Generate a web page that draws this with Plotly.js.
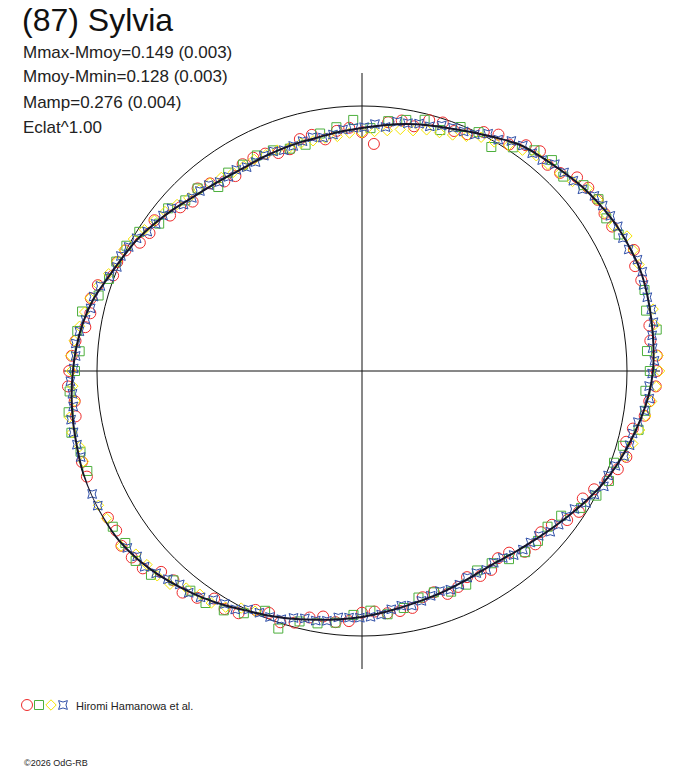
<!DOCTYPE html>
<html>
<head>
<meta charset="utf-8">
<script src="https://cdn.plot.ly/plotly-3.0.1.min.js"></script>
<style>
html,body{margin:0;padding:0;background:#fff;}
#chart{width:688px;height:768px;}
</style>
</head>
<body>
<div id="chart"></div>
<script>
// ---- Data (phase angle in degrees, relative flux radius; 1.0 = mean circle) ----
var objectName = "(87) Sylvia";
var statLines = ["Mmax-Mmoy=0.149 (0.003)", "Mmoy-Mmin=0.128 (0.003)", "Mamp=0.276 (0.004)", "Eclat^1.00"];
var observerName = "Hiromi Hamanowa et al.";
var copyrightText = "\u00a92026 OdG-RB";
var meanRadius = 1.0;
var axisExtent = 1.1245;

var fitTheta = [0,5,10,15,20,25,30,35,40,45,50,55,60,65,70,75,80,85,90,95,100,105,110,115,120,125,130,135,140,145,150,155,160,165,170,175,180,185,190,195,200,205,210,215,220,225,230,235,240,245,250,255,260,265,270,275,280,285,290,295,300,305,310,315,320,325,330,335,340,345,350,355,360];
var fitR = [1.098,1.104,1.109,1.114,1.117,1.112,1.106,1.095,1.083,1.067,1.054,1.041,1.016,0.993,0.974,0.960,0.946,0.931,0.917,0.907,0.898,0.894,0.891,0.889,0.887,0.893,0.903,0.918,0.940,0.962,0.984,1.001,1.022,1.049,1.068,1.081,1.091,1.100,1.107,1.113,1.121,1.125,1.123,1.118,1.105,1.087,1.066,1.045,1.023,1.001,0.985,0.969,0.953,0.940,0.928,0.915,0.903,0.894,0.888,0.882,0.879,0.882,0.894,0.909,0.929,0.952,0.978,1.004,1.026,1.046,1.066,1.085,1.098];

var redTheta = [3,9,15,21,27,33,39,45,51,57,63,69,75,81,87,93,99,105,111,117,123,129,135,141,147,153,159,165,171,177,183,189,195,201,207,213,219,225,231,237,243,249,255,261,267,273,279,285,291,297,303,309,315,321,327,333,339,345,351,357];
var redR = [1.114,1.098,1.125,1.104,1.125,1.091,1.099,1.057,1.067,1.019,1.012,0.970,0.980,0.957,0.858,0.919,0.885,0.906,0.881,0.903,0.877,0.911,0.904,0.932,0.956,1.002,1.006,1.059,1.057,1.097,1.111,1.094,1.127,1.112,1.136,1.106,1.118,1.072,1.076,1.024,1.026,0.978,0.983,0.938,0.945,0.909,0.917,0.884,0.901,0.873,0.895,0.882,0.925,0.922,0.976,0.983,1.034,1.032,1.080,1.110];
var redTheta2 = [0,6,12,18,24,30,36,42,48,54,60,66,72,78,84,90,96,102,108,114,120,126,132,138,144,150,156,162,168,174,180,186,192,198,204,210,216,222,228,234,240,246,252,258,264,270,276,282,288,294,300,306,312,318,324,330,336,342,348,354];
var redR2 = [1.112,1.094,1.129,1.108,1.123,1.090,1.099,1.092,1.047,1.053,1.030,0.978,0.986,0.944,0.944,0.901,0.911,0.911,0.880,0.898,0.901,0.884,0.927,0.923,0.968,0.968,1.011,1.048,1.048,1.087,1.105,1.090,1.127,1.111,1.134,1.107,1.122,1.113,1.063,1.058,1.037,0.987,0.997,0.951,0.953,0.912,0.919,0.914,0.878,0.892,0.893,0.873,0.918,0.909,0.957,0.962,1.014,1.049,1.045,1.090];

var greenTheta = [4,12,20,28,36,44,52,60,68,76,84,92,100,108,116,124,132,140,148,156,164,172,180,188,196,204,212,220,228,236,244,252,260,268,276,284,292,300,308,316,324,332,340,348,356];
var greenR = [1.078,1.096,1.125,1.097,1.103,1.056,1.057,0.976,0.993,0.977,0.948,0.948,0.910,0.882,0.905,0.903,0.927,0.955,0.991,1.015,1.034,1.085,1.083,1.118,1.105,1.132,1.109,1.115,1.063,1.056,1.017,1.022,0.967,0.921,0.923,0.881,0.898,0.869,0.901,0.923,0.929,1.002,1.012,1.067,1.072];
var greenTheta2 = [0,8,16,24,32,40,48,56,64,72,80,88,96,104,112,120,128,136,144,152,160,168,176,184,192,200,208,216,224,232,240,248,256,264,272,280,288,296,304,312,320,328,336,344,352];
var greenR2 = [1.086,1.123,1.109,1.133,1.087,1.091,1.071,1.018,1.003,0.956,0.962,0.917,0.925,0.880,0.898,0.899,0.881,0.927,0.946,1.007,1.016,1.080,1.068,1.106,1.121,1.103,1.129,1.104,1.107,1.052,1.043,0.976,0.974,0.955,0.905,0.908,0.878,0.897,0.875,0.920,0.914,0.975,1.020,1.024,1.079];

var yellowTheta = [0,6,12,18,24,30,36,42,48,54,60,66,72,78,84,90,96,102,108,114,120,126,132,138,144,150,156,162,168,174,180,186,192,198,204,210,216,222,228,234,240,246,342,348,354];
var yellowR = [1.123,1.125,1.123,1.134,1.121,1.094,1.099,1.069,1.049,1.030,0.998,0.969,0.946,0.927,0.912,0.899,0.890,0.888,0.886,0.893,0.893,0.903,0.919,0.939,0.968,0.996,1.013,1.045,1.070,1.092,1.097,1.089,1.119,1.105,1.130,1.113,1.124,1.092,1.083,1.041,1.029,0.992,1.044,1.071,1.099];
var yellowTheta2 = [3,9,15,21,27,33,39,45,51,57,63,69,75,81,87,93,99,105,111,117,123,129,135,141,147,153,159,165,171,177,183,189,195,201,207,213,219,225,231,237,243,345,351,357];
var yellowR2 = [1.119,1.118,1.136,1.120,1.122,1.093,1.095,1.055,1.045,1.015,0.990,0.954,0.942,0.923,0.905,0.899,0.890,0.890,0.893,0.896,0.893,0.913,0.924,0.956,0.979,1.008,1.024,1.063,1.079,1.101,1.093,1.118,1.103,1.132,1.116,1.130,1.098,1.093,1.054,1.044,1.004,1.058,1.084,1.112];

var blueTheta = [2,7,12,17,22,27,32,37,42,47,52,57,62,67,72,77,82,87,92,97,102,107,112,117,122,127,132,137,142,147,152,157,162,167,172,177,182,187,192,197,202,207,212,217,222,227,232,237,242,247,252,257,262,267,272,277,282,287,292,297,302,307,312,317,322,327,332,337,342,347,352,357];
var blueR = [1.104,1.103,1.116,1.111,1.121,1.105,1.105,1.098,1.073,1.067,1.043,1.035,1.014,0.982,0.974,0.958,0.950,0.933,0.918,0.899,0.902,0.888,0.894,0.885,0.895,0.893,0.914,0.921,0.953,0.966,0.997,1.005,1.038,1.051,1.077,1.082,1.101,1.098,1.113,1.110,1.126,1.119,1.126,1.109,1.104,1.074,1.062,1.030,1.019,0.991,0.985,0.958,0.952,0.932,0.928,0.906,0.905,0.887,0.890,0.875,0.885,0.883,0.907,0.912,0.942,0.956,0.993,1.009,1.040,1.048,1.076,1.085];
var blueTheta2 = [4.5,9.5,14.5,19.5,24.5,29.5,34.5,39.5,44.5,49.5,54.5,59.5,64.5,69.5,74.5,79.5,84.5,89.5,94.5,99.5,104.5,109.5,114.5,119.5,124.5,129.5,134.5,139.5,144.5,149.5,154.5,159.5,164.5,169.5,174.5,179.5,184.5,189.5,194.5,199.5,204.5,209.5,214.5,219.5,224.5,229.5,234.5,239.5,244.5,249.5,254.5,259.5,264.5,269.5,274.5,279.5,284.5,289.5,294.5,299.5,304.5,309.5,314.5,319.5,324.5,329.5,334.5,339.5,344.5,349.5,354.5,359.5];
var blueR2 = [1.100,1.115,1.112,1.122,1.106,1.109,1.102,1.078,1.069,1.047,1.045,1.013,0.989,0.980,0.958,0.951,0.925,0.920,0.914,0.893,0.896,0.884,0.893,0.884,0.889,0.909,0.916,0.945,0.956,0.987,1.008,1.017,1.051,1.061,1.085,1.088,1.096,1.113,1.111,1.126,1.119,1.126,1.125,1.100,1.089,1.059,1.049,1.020,0.997,0.991,0.967,0.958,0.934,0.931,0.922,0.898,0.896,0.881,0.886,0.876,0.878,0.900,0.907,0.934,0.946,0.981,1.011,1.021,1.048,1.059,1.089,1.095];

var seriesStyles = [
  {name:"red",    symbol:"circle-open",      color:"#ee2a2a", size:11},
  {name:"green",  symbol:"square-open",      color:"#4caf3c", size:9},
  {name:"yellow", symbol:"diamond-open",     color:"#f5e400", size:8},
  {name:"blue",   symbol:"star-square-open", color:"#2f4fa8", size:8}
];
var seriesData = [
  [redTheta.concat(redTheta2), redR.concat(redR2)],
  [greenTheta.concat(greenTheta2), greenR.concat(greenR2)],
  [yellowTheta.concat(yellowTheta2), yellowR.concat(yellowR2)],
  [blueTheta.concat(blueTheta2), blueR.concat(blueR2)]
];

var W = 688, H = 768;
function px(x){return x/W;}
function py(y){return 1 - y/H;}

var traces = [];
seriesData.forEach(function(d,i){
  var s = seriesStyles[i];
  traces.push({
    type:"scatterpolar", mode:"markers", theta:d[0], r:d[1], subplot:"polar",
    cliponaxis:false, showlegend:false, hoverinfo:"skip",
    marker:{symbol:s.symbol, size:s.size, color:s.color, line:{width:1, color:s.color}}
  });
});
traces.push({
  type:"scatterpolar", mode:"lines", theta:fitTheta, r:fitR, subplot:"polar",
  cliponaxis:false, showlegend:false, hoverinfo:"skip",
  line:{color:"#15152a", width:2, shape:"spline"}
});
// legend symbols
seriesStyles.forEach(function(s,i){
  traces.push({
    type:"scatter", mode:"markers", x:[i], y:[0], xaxis:"x", yaxis:"y",
    showlegend:false, hoverinfo:"skip", cliponaxis:false,
    marker:{symbol:s.symbol, size:s.size, color:s.color, line:{width:1, color:s.color}}
  });
});

var annotations = [];
annotations.push({text:objectName, xref:"paper", yref:"paper", x:px(20), y:py(20), xanchor:"left", yanchor:"middle", showarrow:false, font:{family:"Liberation Sans, Arial, sans-serif", size:32, color:"#111"}});
statLines.forEach(function(t,i){
  annotations.push({text:t, xref:"paper", yref:"paper", x:px(21), y:py(52+25*i), xanchor:"left", yanchor:"middle", showarrow:false, font:{family:"Liberation Sans, Arial, sans-serif", size:17, color:"#222"}});
});
annotations.push({text:observerName, xref:"paper", yref:"paper", x:px(74), y:py(706), xanchor:"left", yanchor:"middle", showarrow:false, font:{family:"Liberation Sans, Arial, sans-serif", size:11, color:"#222"}});
annotations.push({text:copyrightText, xref:"paper", yref:"paper", x:px(22), y:py(763), xanchor:"left", yanchor:"middle", showarrow:false, font:{family:"Liberation Sans, Arial, sans-serif", size:9, color:"#222"}});

var layout = {
  width:W, height:H, margin:{l:0,r:0,t:0,b:0},
  paper_bgcolor:"#fff", plot_bgcolor:"rgba(0,0,0,0)",
  showlegend:false, hovermode:false,
  polar:{
    domain:{x:[px(64),px(660)], y:[py(669),py(73)]},
    bgcolor:"rgba(0,0,0,0)",
    radialaxis:{range:[0,axisExtent], tickvals:[meanRadius], showticklabels:false, ticks:"", showline:false, showgrid:true, gridcolor:"#111", gridwidth:1},
    angularaxis:{tickvals:[0,90,180,270], showticklabels:false, ticks:"", showline:false, showgrid:true, gridcolor:"#111", gridwidth:1, rotation:0, direction:"counterclockwise"}
  },
  xaxis:{domain:[px(21),px(69)], range:[-0.5,3.5], visible:false, fixedrange:true},
  yaxis:{domain:[py(715),py(695)], range:[-1,1], visible:false, fixedrange:true},
  annotations:annotations
};

Plotly.newPlot("chart", traces, layout, {staticPlot:true, displayModeBar:false});
</script>
</body>
</html>
